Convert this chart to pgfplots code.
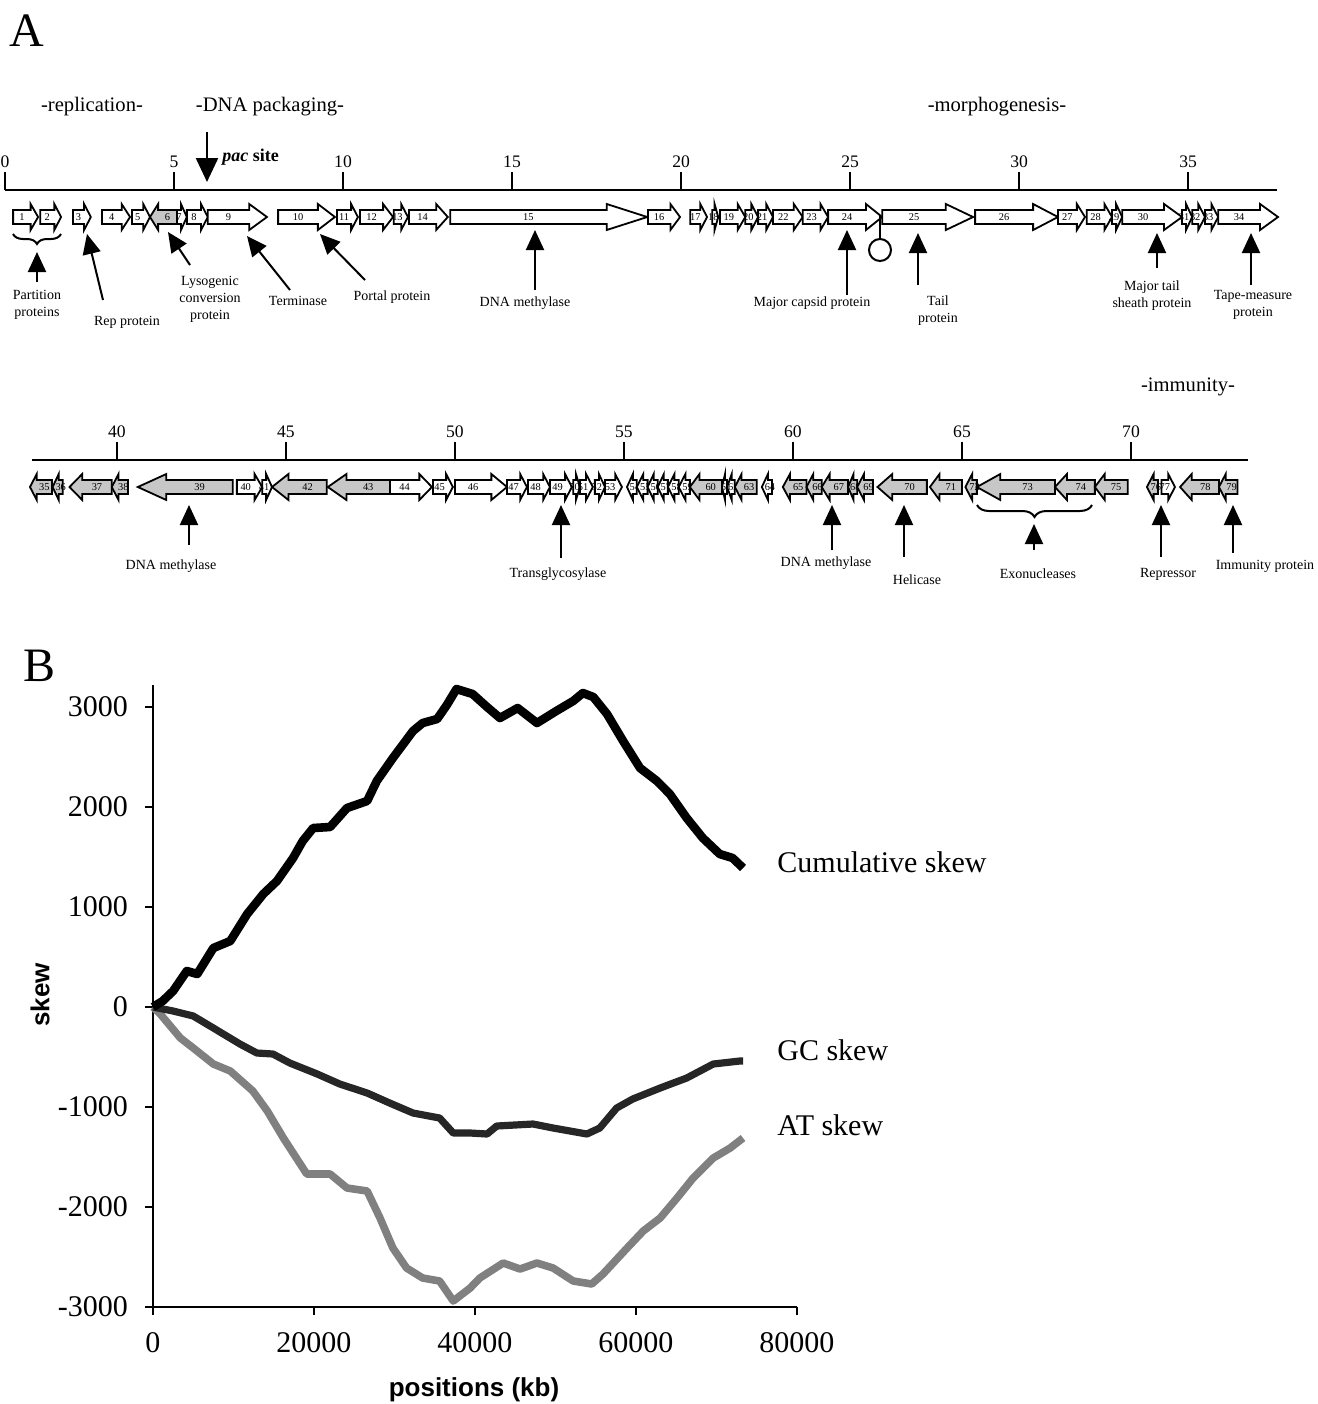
\documentclass[border=0pt]{standalone}
\usepackage{pgfplots}
\pgfplotsset{compat=1.18}
\usepackage{fontspec}
\setmainfont{Liberation Serif}
\newfontfamily\sansbold{Liberation Sans}
\usetikzlibrary{arrows.meta,decorations.pathreplacing}

\definecolor{ggray}{gray}{0.78}
\definecolor{gcline}{gray}{0.15}
\definecolor{atline}{gray}{0.5}

\newcommand\gfont{\fontsize{5.2}{5.2}\selectfont}
\newcommand\tickfont{\fontsize{8.8}{9}\selectfont}
\newcommand\annfont{\fontsize{7}{8.5}\selectfont}
\newcommand\secfont{\fontsize{10.3}{11}\selectfont}

% gene arrow: start, end (kb), direction (1 right / -1 left), fill, number
\newcommand\gene[5]{%
  \pgfmathsetmacro\hl{min(max(0.3*(#2-#1),min(0.2,0.6*(#2-#1))),1.2)}%
  \ifnum#3>0\relax
    \pgfmathsetmacro\gk{#2-\hl}\pgfmathsetmacro\gp{#1}\pgfmathsetmacro\gq{#2}%
  \else
    \pgfmathsetmacro\gk{#1+\hl}\pgfmathsetmacro\gp{#2}\pgfmathsetmacro\gq{#1}%
  \fi
  \pgfmathsetmacro\gm{(\gp+\gk)/2}%
  \edef\genetmp{\noexpand\draw[line width=0.9pt,fill=#4] (axis cs:\gp,-20) -- (axis cs:\gk,-20) -- (axis cs:\gk,-14) -- (axis cs:\gq,-27) -- (axis cs:\gk,-40) -- (axis cs:\gk,-34) -- (axis cs:\gp,-34) -- cycle;
    \noexpand\node[font=\noexpand\gfont,inner sep=0pt] at (axis cs:\gm,-27) {#5};}%
  \genetmp}

\tikzset{ann/.style={line width=1pt,-{Triangle[length=10pt,width=9pt]}}}

\begin{document}
\begin{tikzpicture}
\useasboundingbox (0,0) rectangle (659pt,-702pt);

% ---- genome map, first row (0 - 37.6 kb)
\begin{axis}[at={(2.5pt,-165pt)}, anchor=south west, scale only axis,
  width=636pt, height=125pt, xmin=0, xmax=37.63, ymin=-140, ymax=110,
  hide axis, clip=false]
\addplot[black, line width=1pt] coordinates {(0,0) (37.63,0)};
\pgfplotsinvokeforeach{0,5,10,15,20,25,30,35}{
  \draw[line width=1pt] (axis cs:#1,0) -- (axis cs:#1,18) node[above,inner sep=1.5pt,font=\tickfont]{#1};}
\gene{0.24}{0.98}{1}{white}{1}
\gene{1.04}{1.66}{1}{white}{2}
\gene{2.01}{2.54}{1}{white}{3}
\gene{2.87}{3.70}{1}{white}{4}
\gene{3.76}{4.29}{1}{white}{5}
\gene{4.29}{5.09}{-1}{ggray}{6}
\gene{5.09}{5.38}{1}{white}{7}
\gene{5.38}{6.00}{1}{white}{8}
\gene{6.00}{7.75}{1}{white}{9}
\gene{8.08}{9.76}{1}{white}{10}
\gene{9.82}{10.44}{1}{white}{11}
\gene{10.50}{11.48}{1}{white}{12}
\gene{11.50}{11.92}{1}{white}{13}
\gene{11.95}{13.10}{1}{white}{14}
\gene{13.17}{19.00}{1}{white}{15}
\gene{19.02}{19.97}{1}{white}{16}
\gene{20.27}{20.77}{1}{white}{17}
\gene{20.92}{21.10}{1}{white}{18}
\gene{21.15}{21.90}{1}{white}{19}
\gene{21.90}{22.28}{1}{white}{20}
\gene{22.28}{22.72}{1}{white}{21}
\gene{22.72}{23.60}{1}{white}{22}
\gene{23.60}{24.35}{1}{white}{23}
\gene{24.35}{25.95}{1}{white}{24}
\gene{25.95}{28.64}{1}{white}{25}
\gene{28.70}{31.15}{1}{white}{26}
\gene{31.15}{31.95}{1}{white}{27}
\gene{32.00}{32.75}{1}{white}{28}
\gene{32.75}{33.05}{1}{white}{29}
\gene{33.05}{34.82}{1}{white}{30}
\gene{34.82}{35.12}{1}{white}{31}
\gene{35.12}{35.50}{1}{white}{32}
\gene{35.50}{35.89}{1}{white}{33}
\gene{35.89}{37.66}{1}{white}{34}
\end{axis}

% ---- genome map, second row (37.5 - 73.5 kb)
\begin{axis}[at={(16pt,-300pt)}, anchor=south west, scale only axis,
  width=608pt, height=125pt, xmin=37.49, xmax=73.46, ymin=-140, ymax=110,
  hide axis, clip=false]
\addplot[black, line width=1pt] coordinates {(37.49,0) (73.46,0)};
\pgfplotsinvokeforeach{40,45,50,55,60,65,70}{
  \draw[line width=1pt] (axis cs:#1,0) -- (axis cs:#1,18) node[above,inner sep=1.5pt,font=\tickfont]{#1};}
\gene{37.43}{38.08}{-1}{ggray}{35}
\gene{38.10}{38.40}{-1}{ggray}{36}
\gene{38.60}{39.85}{-1}{ggray}{37}
\gene{39.85}{40.33}{-1}{ggray}{38}
\gene{40.62}{43.43}{-1}{ggray}{39}
\gene{43.55}{44.30}{1}{white}{40}
\gene{44.30}{44.59}{1}{white}{41}
\gene{44.59}{46.21}{-1}{ggray}{42}
\gene{46.24}{48.08}{-1}{ggray}{43}
\gene{48.08}{49.32}{1}{white}{44}
\gene{49.35}{49.94}{1}{white}{45}
\gene{50.00}{51.54}{1}{white}{46}
\gene{51.54}{52.13}{1}{white}{47}
\gene{52.16}{52.81}{1}{white}{48}
\gene{52.81}{53.46}{1}{white}{49}
\gene{53.50}{53.70}{1}{white}{50}
\gene{53.70}{54.08}{1}{white}{51}
\gene{54.14}{54.44}{1}{white}{52}
\gene{54.44}{54.94}{1}{white}{53}
\gene{55.09}{55.38}{-1}{white}{54}
\gene{55.38}{55.70}{-1}{white}{55}
\gene{55.70}{56.00}{-1}{white}{56}
\gene{56.00}{56.30}{-1}{white}{57}
\gene{56.30}{56.62}{-1}{white}{58}
\gene{56.62}{56.95}{-1}{white}{59}
\gene{56.95}{57.90}{-1}{ggray}{60}
\gene{57.90}{58.05}{-1}{white}{61}
\gene{58.05}{58.28}{-1}{white}{62}
\gene{58.28}{58.93}{-1}{ggray}{63}
\gene{59.08}{59.38}{-1}{white}{64}
\gene{59.70}{60.40}{-1}{ggray}{65}
\gene{60.40}{60.85}{-1}{ggray}{66}
\gene{60.85}{61.63}{-1}{ggray}{67}
\gene{61.63}{61.90}{-1}{ggray}{68}
\gene{61.90}{62.37}{-1}{ggray}{69}
\gene{62.50}{63.96}{-1}{ggray}{70}
\gene{64.05}{65.00}{-1}{ggray}{71}
\gene{65.10}{65.44}{-1}{ggray}{72}
\gene{65.44}{67.75}{-1}{ggray}{73}
\gene{67.75}{68.93}{-1}{ggray}{74}
\gene{68.93}{69.90}{-1}{ggray}{75}
\gene{70.47}{70.80}{-1}{ggray}{76}
\gene{70.90}{71.30}{1}{white}{77}
\gene{71.45}{72.60}{-1}{ggray}{78}
\gene{72.60}{73.15}{-1}{ggray}{79}
\end{axis}

% ---- panel B: skew curves
\begin{axis}[at={(76.5pt,-653.5pt)}, anchor=south west, scale only axis,
  width=322pt, height=311pt,
  xmin=0, xmax=80000, ymin=-3000, ymax=3220,
  axis lines=left, axis line style={-, line width=1pt},
  tick style={black, line width=1pt}, tick align=outside, major tick length=4pt,
  xtick={0,20000,40000,60000,80000}, ytick={-3000,-2000,-1000,0,1000,2000,3000},
  scaled x ticks=false, scaled y ticks=false,
  /pgf/number format/1000 sep={}, /pgf/number format/assume math mode=true,
  ticklabel style={font=\fontsize{15}{15}\selectfont},
  yticklabel style={xshift=-5pt}, xticklabel style={yshift=-5pt},
  clip=false]
\addplot[atline, line width=3.8pt, line join=round] coordinates {
 (0,0) (900,-70) (3400,-310) (5000,-410) (7500,-570) (9600,-640) (12400,-840)
 (14200,-1040) (16200,-1310) (19100,-1670) (22000,-1670) (24100,-1810) (26600,-1840)
 (28200,-2110) (29800,-2410) (31500,-2610) (33500,-2710) (35600,-2740) (37300,-2940)
 (39400,-2810) (40600,-2710) (43500,-2560) (45600,-2620) (47700,-2560) (49700,-2610)
 (52200,-2740) (54500,-2770) (55900,-2670) (58900,-2410) (60900,-2240) (63000,-2110)
 (65100,-1910) (67100,-1710) (69600,-1510) (71700,-1410) (73300,-1310)};
\addplot[gcline, line width=3.6pt, line join=round] coordinates {
 (0,0) (2500,-40) (5000,-90) (7500,-210) (10800,-370) (12900,-460) (14900,-470)
 (17000,-560) (20400,-670) (23200,-770) (26600,-860) (29400,-960) (32300,-1060)
 (35600,-1110) (37300,-1260) (39400,-1260) (41500,-1270) (42700,-1190) (47200,-1170)
 (49700,-1210) (51800,-1240) (53900,-1270) (55500,-1210) (57600,-1010) (59600,-920)
 (63000,-810) (66300,-710) (69600,-570) (72900,-540) (73300,-540)};
\addplot[black, line width=4.3pt, line join=round] coordinates {
 (0,0) (1200,60) (2500,160) (4200,360) (5500,330) (7500,590) (9600,660) (11700,930)
 (13700,1130) (15400,1260) (17400,1490) (18600,1660) (19900,1790) (22000,1800)
 (24100,1990) (26600,2060) (27800,2260) (29800,2490) (32300,2760) (33500,2840)
 (35300,2880) (36500,3020) (37700,3180) (39700,3130) (41500,3000) (43100,2890)
 (45300,2990) (47700,2840) (50100,2960) (52200,3060) (53400,3140) (54700,3100)
 (56400,2930) (58400,2660) (60500,2390) (62600,2260) (64200,2130) (66300,1890)
 (68300,1690) (70400,1530) (72000,1490) (73300,1390)};
\end{axis}

% ---- annotations, in image pixel units
\begin{scope}[x=0.5pt,y=-0.5pt]
\node[font=\fontsize{24}{24}\selectfont] at (27,31) {A};
\node[font=\fontsize{24}{24}\selectfont] at (40,666) {B};
\node[font=\secfont] at (92,107) {-replication-};
\node[font=\secfont] at (270,107) {-DNA packaging-};
\node[font=\secfont] at (997,107) {-morphogenesis-};
\node[font=\secfont] at (1188,387) {-immunity-};
\draw[line width=1.2pt,-{Triangle[length=12pt,width=11pt]}] (207,132) -- (207,182);
\node[anchor=west,font=\fontsize{9}{9}\selectfont\bfseries,inner sep=0pt] at (222,157) {\textit{pac} site};
% terminator
\draw[line width=1pt] (880,216) -- (880,239);
\draw[line width=1pt,fill=white] (880,250) circle[radius=5.5pt];
% first row labels
\draw[line width=1pt,decorate,decoration={brace,mirror,amplitude=5pt}] (13,234) -- (61,234);
\draw[ann] (37,282) -- (37,252);
\node[font=\annfont,align=center] at (37,305) {Partition\\proteins};
\draw[ann] (103,300) -- (87,234);
\node[font=\annfont] at (127,322) {Rep protein};
\draw[ann] (190,265) -- (168,232);
\node[font=\annfont,align=center] at (210,299) {Lysogenic\\conversion\\protein};
\draw[ann] (290,290) -- (247,236);
\node[font=\annfont] at (298,301) {Terminase};
\draw[ann] (365,280) -- (320,234);
\node[font=\annfont] at (392,297) {Portal protein};
\draw[ann] (535,290) -- (535,230);
\node[font=\annfont] at (525,303) {DNA methylase};
\draw[ann] (847,295) -- (847,230);
\node[font=\annfont] at (812,303) {Major capsid protein};
\draw[ann] (918,285) -- (918,233);
\node[font=\annfont,align=center] at (938,311) {Tail\\protein};
\draw[ann] (1157,268) -- (1157,233);
\node[font=\annfont,align=center] at (1152,296) {Major tail\\sheath protein};
\draw[ann] (1251,285) -- (1251,233);
\node[font=\annfont,align=center] at (1253,305) {Tape-measure\\protein};
% second row labels
\draw[ann] (189,545) -- (189,505);
\node[font=\annfont] at (171,566) {DNA methylase};
\draw[ann] (561,558) -- (561,505);
\node[font=\annfont] at (558,574) {Transglycosylase};
\draw[ann] (832,550) -- (832,505);
\node[font=\annfont] at (826,563) {DNA methylase};
\draw[ann] (904,557) -- (904,505);
\node[font=\annfont] at (917,580) {Helicase};
\draw[line width=1pt,decorate,decoration={brace,mirror,amplitude=6pt}] (977,505) -- (1092,505);
\draw[ann] (1034,550) -- (1034,524);
\node[font=\annfont] at (1038,574) {Exonucleases};
\draw[ann] (1161,557) -- (1161,505);
\node[font=\annfont] at (1168,574) {Repressor};
\draw[ann] (1233,553) -- (1233,505);
\node[font=\annfont] at (1265,566) {Immunity protein};
% panel B texts
\node[rotate=90,font=\sansbold\bfseries\fontsize{13}{13}\selectfont] at (40,995) {skew};
\node[font=\sansbold\bfseries\fontsize{13}{13}\selectfont] at (474,1390) {positions (kb)};
\node[anchor=west,font=\fontsize{15}{15}\selectfont,inner sep=0pt] at (777,862) {Cumulative skew};
\node[anchor=west,font=\fontsize{15}{15}\selectfont,inner sep=0pt] at (777,1050) {GC skew};
\node[anchor=west,font=\fontsize{15}{15}\selectfont,inner sep=0pt] at (777,1125) {AT skew};
\end{scope}
\end{tikzpicture}
\end{document}
